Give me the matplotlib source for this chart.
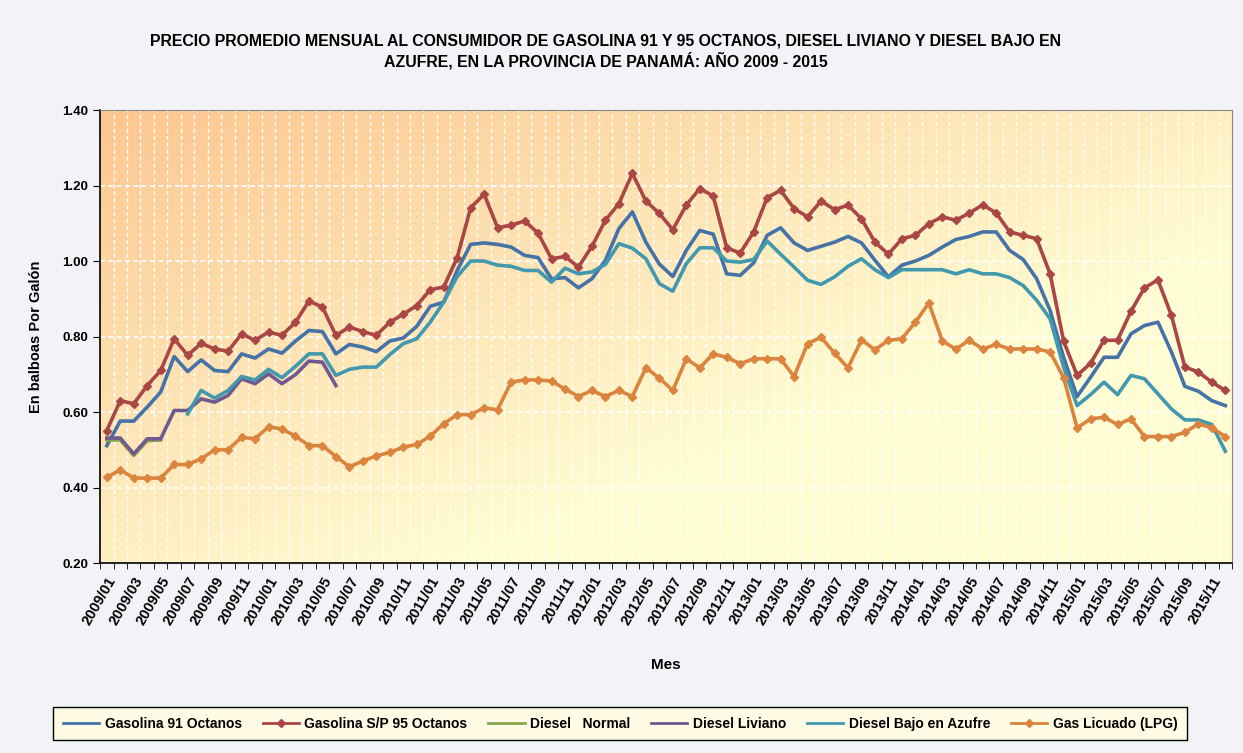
import numpy as np
import matplotlib.pyplot as plt
from matplotlib.lines import Line2D

nan = np.nan

# meses 2009/01 .. 2015/12
meses = [f"{a}/{m:02d}" for a in range(2009, 2016) for m in range(1, 13)]

gas91 = [0.511, 0.576, 0.576, 0.613, 0.653, 0.747, 0.707, 0.738, 0.710, 0.707, 0.754, 0.743,
         0.767, 0.756, 0.788, 0.816, 0.813, 0.754, 0.779, 0.772, 0.760, 0.788, 0.796, 0.827,
         0.880, 0.891, 0.975, 1.044, 1.048, 1.044, 1.037, 1.015, 1.009, 0.953, 0.956, 0.929,
         0.953, 1.002, 1.086, 1.130, 1.050, 0.992, 0.959, 1.028, 1.081, 1.071, 0.966, 0.962,
         0.995, 1.068, 1.088, 1.048, 1.028, 1.039, 1.050, 1.065, 1.048, 1.002, 0.958, 0.989,
         1.000, 1.015, 1.037, 1.057, 1.065, 1.077, 1.077, 1.028, 1.004, 0.953, 0.869, 0.745,
         0.641, 0.692, 0.745, 0.745, 0.807, 0.829, 0.838, 0.759, 0.668, 0.655, 0.630, 0.617]

gas95 = [0.551, 0.630, 0.622, 0.670, 0.710, 0.794, 0.750, 0.782, 0.767, 0.761, 0.807, 0.790,
         0.812, 0.803, 0.838, 0.894, 0.878, 0.803, 0.825, 0.813, 0.803, 0.838, 0.859, 0.882,
         0.924, 0.931, 1.009, 1.141, 1.177, 1.088, 1.095, 1.106, 1.074, 1.006, 1.012, 0.984,
         1.039, 1.108, 1.152, 1.232, 1.159, 1.126, 1.083, 1.148, 1.192, 1.172, 1.035, 1.021,
         1.077, 1.168, 1.187, 1.139, 1.117, 1.159, 1.136, 1.148, 1.112, 1.050, 1.018, 1.059,
         1.068, 1.099, 1.117, 1.108, 1.127, 1.149, 1.127, 1.077, 1.068, 1.059, 0.966, 0.788,
         0.697, 0.729, 0.790, 0.790, 0.867, 0.929, 0.950, 0.856, 0.719, 0.706, 0.679, 0.657]

diesel_normal = [0.526, 0.526, 0.485, 0.524, 0.526] + [nan] * 79

diesel_liviano = [0.531, 0.531, 0.489, 0.529, 0.529, 0.604, 0.604, 0.635, 0.626, 0.644, 0.688, 0.675,
                  0.701, 0.675, 0.699, 0.735, 0.732, 0.670] + [nan] * 66

diesel_bajo = [nan] * 6 + [
    0.595, 0.657, 0.637, 0.657, 0.694, 0.685,
    0.713, 0.691, 0.721, 0.754, 0.754, 0.697, 0.713, 0.719, 0.719, 0.752, 0.781, 0.794,
    0.838, 0.891, 0.959, 1.000, 1.000, 0.989, 0.986, 0.975, 0.975, 0.944, 0.981, 0.966,
    0.971, 0.991, 1.046, 1.034, 1.006, 0.940, 0.920, 0.993, 1.035, 1.035, 1.000, 0.997,
    1.004, 1.053, 1.018, 0.984, 0.949, 0.938, 0.958, 0.986, 1.006, 0.977, 0.956, 0.977,
    0.977, 0.977, 0.977, 0.966, 0.977, 0.966, 0.966, 0.956, 0.935, 0.896, 0.847, 0.719,
    0.617, 0.646, 0.679, 0.646, 0.697, 0.688, 0.648, 0.608, 0.579, 0.579, 0.567, 0.496]

lpg = [0.427, 0.447, 0.425, 0.425, 0.425, 0.461, 0.461, 0.476, 0.500, 0.500, 0.533, 0.529,
       0.561, 0.555, 0.536, 0.511, 0.511, 0.482, 0.455, 0.470, 0.484, 0.493, 0.507, 0.514,
       0.536, 0.569, 0.593, 0.593, 0.611, 0.606, 0.679, 0.685, 0.685, 0.682, 0.661, 0.641,
       0.657, 0.641, 0.657, 0.641, 0.717, 0.690, 0.657, 0.741, 0.717, 0.754, 0.745, 0.728,
       0.741, 0.741, 0.741, 0.694, 0.781, 0.798, 0.756, 0.717, 0.791, 0.765, 0.790, 0.794,
       0.838, 0.889, 0.788, 0.767, 0.790, 0.767, 0.779, 0.767, 0.767, 0.767, 0.759, 0.691,
       0.558, 0.582, 0.586, 0.567, 0.582, 0.535, 0.535, 0.535, 0.546, 0.569, 0.558, 0.535]

plt.rcParams['font.family'] = ['Liberation Sans', 'DejaVu Sans']
plt.rcParams['font.weight'] = 'bold'

fig = plt.figure(figsize=(12.43, 7.53), dpi=100, facecolor='#f3f2f6')
ax = fig.add_axes([0.0805, 0.2523, 0.9107, 0.6016])

x = np.arange(len(meses))

# fondo degradado naranja -> amarillo
u = np.linspace(0, 1, 300)[None, :]
v = np.linspace(1, 0, 200)[:, None]
t = np.clip((u + (1 - v)) / 1.3, 0, 1)
c0 = np.array([253, 198, 144]) / 255
c1 = np.array([255, 252, 210]) / 255
img = c0[None, None, :] * (1 - t[..., None]) + c1[None, None, :] * t[..., None]
ax.imshow(img, extent=(-0.5, len(meses) - 0.5, 0.2, 1.4), aspect='auto', zorder=0)

for b in np.arange(0.5, len(meses) - 1, 1):
    ax.axvline(b, color='white', lw=1, ls=(0, (3, 2)), zorder=1)
for yv in [0.4, 0.6, 0.8, 1.0, 1.2]:
    ax.axhline(yv, color='white', lw=1.2, ls=(0, (3, 2)), zorder=1)

lw = 2.6
ax.plot(x, gas91, color='#4572a7', lw=lw, zorder=3)
ax.plot(x, gas95, color='#aa4643', lw=lw, marker='D', ms=4, zorder=3)
ax.plot(x, diesel_normal, color='#89a54e', lw=lw, zorder=3)
ax.plot(x, diesel_liviano, color='#71588f', lw=lw, zorder=3)
ax.plot(x, diesel_bajo, color='#4198af', lw=lw, zorder=3)
ax.plot(x, lpg, color='#db843d', lw=lw, marker='D', ms=4, zorder=3)

ax.set_xlim(-0.5, len(meses) - 0.5)
ax.set_ylim(0.2, 1.4)
yt = [0.2, 0.4, 0.6, 0.8, 1.0, 1.2, 1.4]
ax.set_yticks(yt)
ax.set_yticklabels([f"{v:.2f}" for v in yt], fontsize=9.5, fontweight='bold')
ax.set_xticks(x[::2])
ax.set_xticklabels(meses[::2], rotation=60, ha='right', rotation_mode='anchor', fontsize=10.5, fontweight='bold')
ax.set_xticks(np.arange(-0.5, len(meses), 1), minor=True)
ax.tick_params(axis='x', which='major', length=0, pad=8)
ax.tick_params(axis='x', which='minor', length=4, direction='out')
ax.tick_params(axis='y', length=5, direction='out')

for s in ['top', 'right']:
    ax.spines[s].set_color('#888888')
for s in ['left', 'bottom']:
    ax.spines[s].set_color('black')
    ax.spines[s].set_linewidth(1.2)

ax.set_ylabel('En balboas Por Galón', fontsize=10.5, fontweight='bold', labelpad=14)
ax.set_xlabel('Mes', fontsize=11, fontweight='bold', labelpad=22)

fig.text(0.4875, 0.932, 'PRECIO PROMEDIO MENSUAL AL CONSUMIDOR DE GASOLINA 91 Y 95 OCTANOS, DIESEL LIVIANO Y DIESEL BAJO EN\n'
         'AZUFRE, EN LA PROVINCIA DE PANAMÁ: AÑO 2009 - 2015',
         ha='center', va='center', fontsize=11.4, fontweight='bold', linespacing=1.25)

handles = [
    Line2D([], [], color='#4572a7', lw=2),
    Line2D([], [], color='#aa4643', lw=2, marker='D', ms=4),
    Line2D([], [], color='#89a54e', lw=2),
    Line2D([], [], color='#71588f', lw=2),
    Line2D([], [], color='#4198af', lw=2),
    Line2D([], [], color='#db843d', lw=2, marker='D', ms=4),
]
labels = ['Gasolina 91 Octanos', 'Gasolina S/P 95 Octanos', 'Diesel   Normal',
          'Diesel Liviano', 'Diesel Bajo en Azufre', 'Gas Licuado (LPG)']
leg = fig.legend(handles, labels, loc='center', bbox_to_anchor=(0.499, 0.039), ncol=6,
                 prop={'weight': 'bold', 'size': 10}, frameon=True, fancybox=False,
                 handlelength=2.6, columnspacing=1.5, handletextpad=0.4,
                 borderpad=0.7)
leg.get_frame().set_facecolor('#fffbe4')
leg.get_frame().set_edgecolor('black')
leg.get_frame().set_alpha(1)

fig.savefig('out.png', dpi=100, facecolor=fig.get_facecolor())
